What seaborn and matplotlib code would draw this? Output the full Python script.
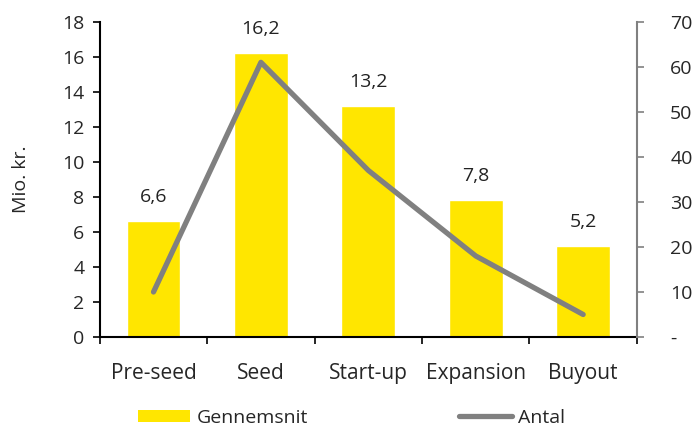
import numpy as np
import pandas as pd
import matplotlib
matplotlib.use('Agg')
import matplotlib.pyplot as plt
import seaborn as sns
from matplotlib.patches import Patch
from matplotlib.lines import Line2D

# Data
categories = ['Pre-seed', 'Seed', 'Start-up', 'Expansion', 'Buyout']
gennemsnit = [6.6, 16.2, 13.2, 7.8, 5.2]
antal = [10, 61, 37, 18, 5]

bar_color = '#FFE600'
line_color = '#808080'
fs = 14

sns.set_style('white')
plt.rcParams['font.family'] = ['Open Sans', 'DejaVu Sans']

df = pd.DataFrame({'Fase': categories, 'Gennemsnit': gennemsnit, 'Antal': antal})

fig = plt.figure(figsize=(6.93, 4.28), dpi=100)
ax = fig.add_axes([0.144, 0.2126, 0.775, 0.7364])

sns.barplot(data=df, x='Fase', y='Gennemsnit', color=bar_color, width=0.5,
            saturation=1, ax=ax)
ax.bar_label(ax.containers[0], labels=[f'{v:.1f}'.replace('.', ',') for v in gennemsnit],
             padding=11, fontsize=fs, color='#222222')

ax.set_ylim(0, 18)
ax.set_yticks(range(0, 19, 2))
ax.set_xlim(-0.5, len(categories) - 0.5)
ax.set_xlabel('')
ax.set_ylabel('Mio. kr.', fontsize=fs, labelpad=23)
ax.tick_params(axis='y', labelsize=fs, length=5, width=1.2, direction='out', left=True,
               color='black', pad=6)
ax.tick_params(axis='x', which='major', length=0, labelsize=15, pad=19)
ax.set_xticks(np.arange(-0.5, len(categories), 1), minor=True)
ax.tick_params(axis='x', which='minor', length=5, width=1.2, direction='out', bottom=True, color='black')
for s in ['top', 'right']:
    ax.spines[s].set_visible(False)
ax.spines['left'].set_color('black')
ax.spines['left'].set_linewidth(1.5)
ax.spines['bottom'].set_color('black')
ax.spines['bottom'].set_linewidth(1.5)

ax2 = ax.twinx()
sns.lineplot(x=np.arange(len(categories)), y=antal, color=line_color, linewidth=3.8,
             ax=ax2, solid_capstyle='round', legend=False)
ax2.set_ylim(0, 70)
ax2.set_yticks(range(0, 71, 10))
ax2.set_yticklabels(['-'] + [str(v) for v in range(10, 71, 10)])
ax2.tick_params(axis='y', labelsize=fs, length=5, width=1.2, direction='out', right=True,
                color=line_color, pad=19)
for s in ['top', 'left', 'bottom']:
    ax2.spines[s].set_visible(False)
ax2.spines['right'].set_color(line_color)
ax2.spines['right'].set_linewidth(1.5)
ax2.set_ylabel('')

handles = [Patch(facecolor=bar_color, edgecolor='none'),
           Line2D([0], [0], color=line_color, linewidth=3.8, solid_capstyle='round')]
fig.legend(handles, ['Gennemsnit', 'Antal'], loc='lower center', bbox_to_anchor=(0.507, -0.038),
           ncol=2, frameon=False, fontsize=fs, columnspacing=7.8, handlelength=2.7,
           handletextpad=0.3, handleheight=0.6)

fig.savefig('out.png', dpi=100)
